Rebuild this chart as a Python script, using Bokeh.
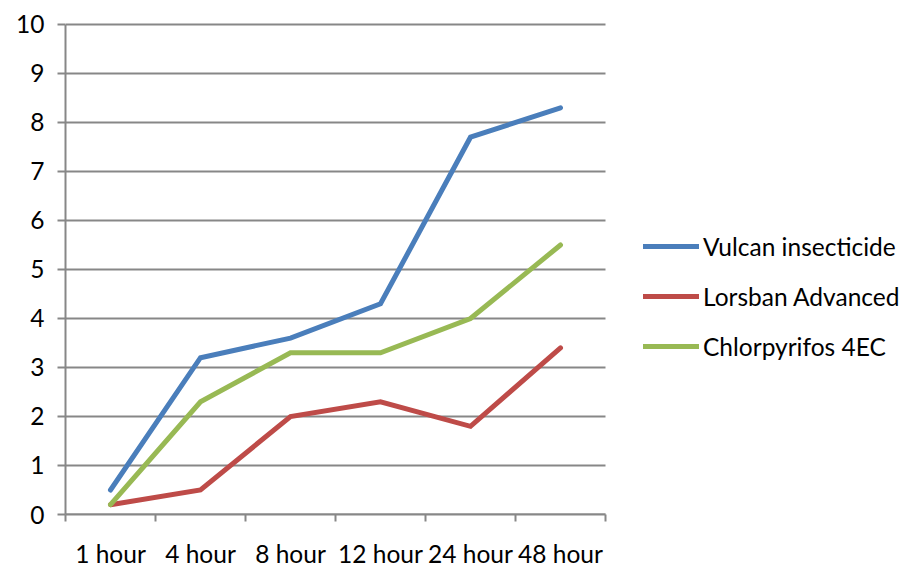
from bokeh.plotting import figure
from bokeh.models import FixedTicker, Legend, LegendItem, Range1d
from bokeh.embed import file_html
from bokeh.resources import INLINE

categories = ["1 hour", "4 hour", "8 hour", "12 hour", "24 hour", "48 hour"]
vulcan = [0.5, 3.2, 3.6, 4.3, 7.7, 8.3]
lorsban = [0.2, 0.5, 2.0, 2.3, 1.8, 3.4]
chlorpyrifos = [0.2, 2.3, 3.3, 3.3, 4.0, 5.5]
series_names = ["Vulcan insecticide", "Lorsban Advanced", "Chlorpyrifos 4EC"]
colors = ["#4A7EBB", "#BE4B48", "#98B954"]
y_ticks = list(range(0, 11))

FONT = "Lato"
FS = "24.5px"
GRID = "#878787"

n = len(categories)
xs = [i + 0.5 for i in range(n)]

W, H = 904, 570
LEFT, TOP, BOTTOM = 65, 22, 54
PLOT_W = 540            # pixel width of the category area
x_end = n * (W - LEFT) / PLOT_W
y_end = 10 + 2 * 10 / (H - TOP - BOTTOM)

p = figure(width=W, height=H, output_backend="svg", toolbar_location=None,
           x_range=Range1d(0, x_end), y_range=Range1d(0, y_end),
           min_border_left=LEFT, min_border_right=0, min_border_top=TOP,
           min_border_bottom=BOTTOM)
p.outline_line_color = None
p.background_fill_color = "white"
p.border_fill_color = "white"
p.xgrid.grid_line_color = None
p.ygrid.grid_line_color = None

# horizontal grid lines limited to the category area
p.segment(x0=[0] * len(y_ticks), x1=[n] * len(y_ticks), y0=y_ticks, y1=y_ticks,
          line_color=GRID, line_width=2)

renderers = []
for vals, c in zip([vulcan, lorsban, chlorpyrifos], colors):
    r = p.line(xs, vals, line_color=c, line_width=5, line_cap="round", line_join="miter")
    renderers.append(r)

# x axis
p.xaxis.bounds = (0, n)
p.xaxis.ticker = FixedTicker(ticks=xs, minor_ticks=list(range(n + 1)))
p.xaxis.major_label_overrides = {x: c for x, c in zip(xs, categories)}
p.xaxis.major_tick_out = 0
p.xaxis.major_tick_in = 0
p.xaxis.minor_tick_out = 7
p.xaxis.minor_tick_in = 0
p.xaxis.minor_tick_line_color = GRID
p.xaxis.minor_tick_line_width = 2
p.xaxis.axis_line_color = GRID
p.xaxis.axis_line_width = 2
p.xaxis.major_label_text_font = FONT
p.xaxis.major_label_text_font_size = FS
p.xaxis.major_label_text_color = "black"
p.xaxis.major_label_standoff = 17

# y axis
p.yaxis.bounds = (0, 10)
p.yaxis.ticker = FixedTicker(ticks=y_ticks)
p.yaxis.major_tick_out = 8
p.yaxis.major_tick_in = 0
p.yaxis.minor_tick_line_color = None
p.yaxis.major_tick_line_color = GRID
p.yaxis.major_tick_line_width = 2
p.yaxis.axis_line_color = GRID
p.yaxis.axis_line_width = 2
p.yaxis.major_label_text_font = FONT
p.yaxis.major_label_text_font_size = FS
p.yaxis.major_label_text_color = "black"
p.yaxis.major_label_standoff = 13

legend = Legend(items=[LegendItem(label=nm, renderers=[r]) for nm, r in zip(series_names, renderers)],
                location=(578, 153), glyph_width=56, glyph_height=30, label_height=30,
                spacing=20, padding=0, margin=0, label_standoff=4,
                label_text_font=FONT, label_text_font_size=FS, label_text_color="black",
                border_line_color=None, background_fill_alpha=0)
p.add_layout(legend, "center")

open("out.html", "w").write(file_html(p, INLINE))
